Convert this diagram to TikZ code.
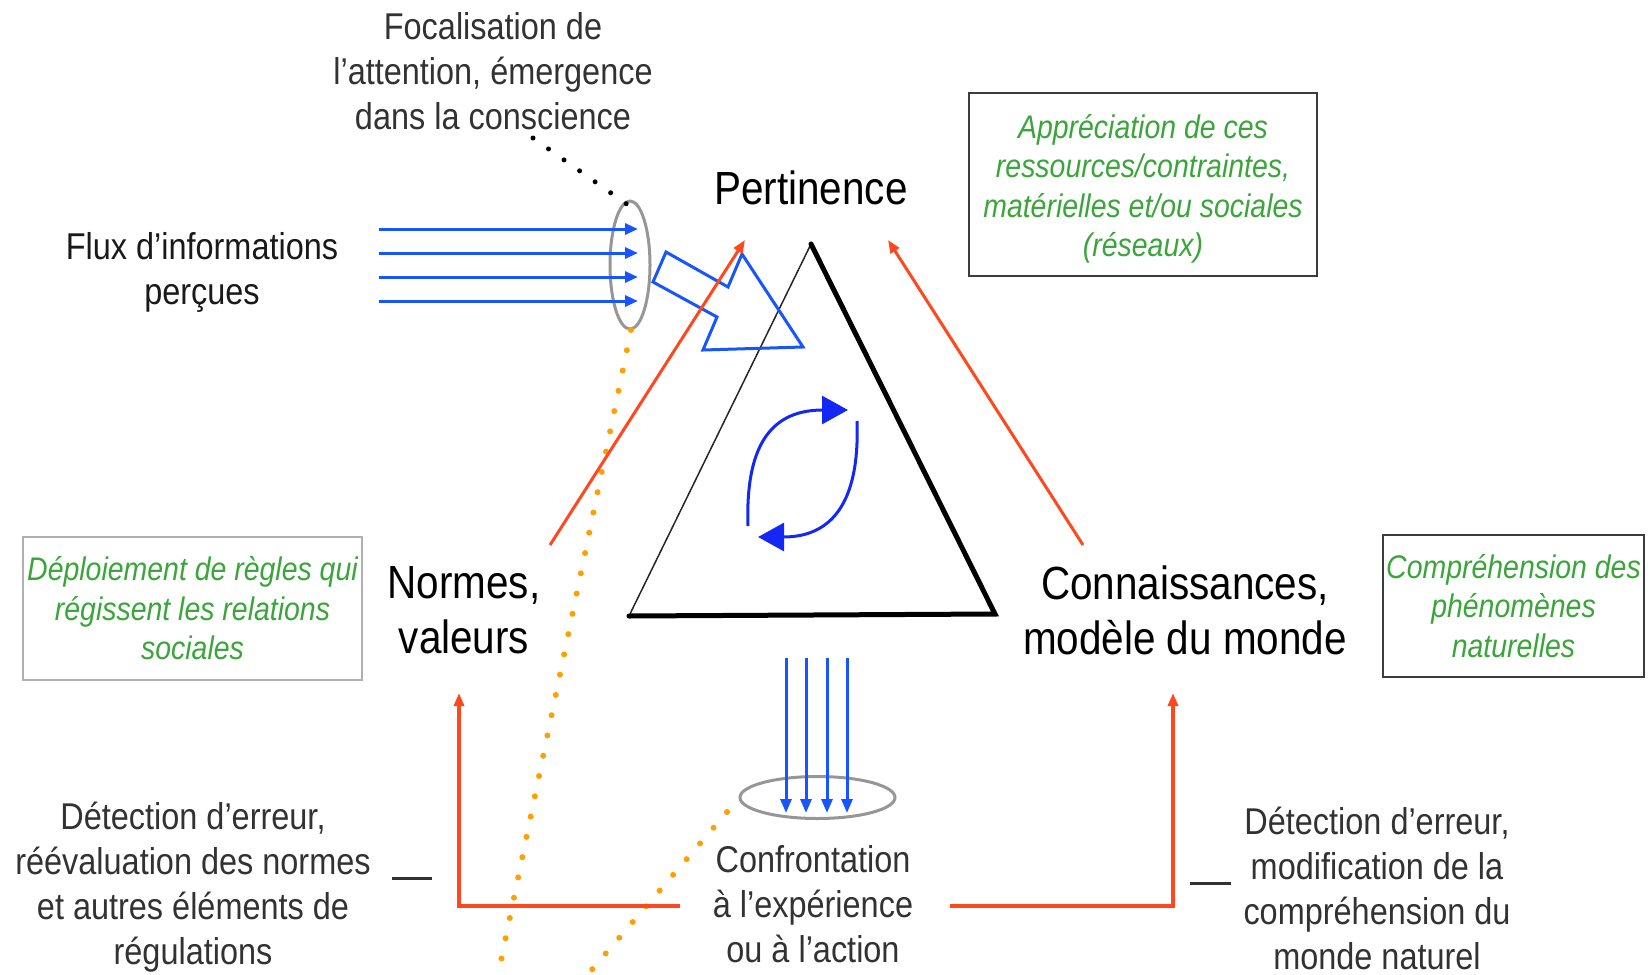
\documentclass[tikz,border=0pt]{standalone}
\usepackage{fontspec}
\setmainfont{Liberation Sans}[FakeStretch=0.87]
\usetikzlibrary{arrows.meta,shapes.geometric}
\definecolor{myblue}{RGB}{25,85,255}
\definecolor{cycblue}{RGB}{20,40,245}
\definecolor{myred}{RGB}{255,72,30}
\definecolor{mygreen}{RGB}{58,165,58}
\definecolor{myorange}{RGB}{255,160,0}
\definecolor{txtgray}{RGB}{50,50,50}
\definecolor{ellgray}{RGB}{150,150,150}
\definecolor{boxgray}{RGB}{60,60,60}
\definecolor{lboxgray}{RGB}{175,175,180}
\begin{document}
\begin{tikzpicture}[x=1bp,y=-1bp,
  lbl/.style={inner sep=0pt, align=center, text=txtgray, font=\fontsize{37.3bp}{45bp}\selectfont},
  big/.style={inner sep=0pt, align=center, text=black, font=\fontsize{46.5bp}{55bp}\selectfont},
  grnbox/.style={draw=boxgray, line width=2bp, inner sep=0pt, align=center, text=mygreen,
    font=\fontsize{32.7bp}{39.5bp}\selectfont\itshape},
  flow/.style={myblue, line width=3bp, -{Triangle[length=13bp,width=11bp]}},
  dflow/.style={myblue, line width=3bp, -{Triangle[length=14bp,width=11bp]}},
  redarr/.style={myred, line width=3bp, -{Triangle[length=13bp,width=10bp]}},
  redL/.style={myred, line width=3.5bp, -{Triangle[length=13bp,width=10bp]}},
  cyc/.style={cycblue, line width=3bp, -{Triangle[length=26bp,width=28bp]}},
  ell/.style={draw=ellgray, line width=3bp, ellipse, inner sep=0pt},
  odots/.style={myorange, line width=6bp, line cap=round, dash pattern=on 0bp off 20.7bp},
  kdots/.style={black, line width=5bp, line cap=round, dash pattern=on 0bp off 19bp},
  dashmark/.style={txtgray, line width=3bp}
]
\useasboundingbox (0,0) rectangle (1652,974);

% texts
\node[lbl] (focal) at (493,71) {Focalisation de\\l'attention, émergence\\dans la conscience};
\node[lbl, text=black!90] (flux) at (202,272) {Flux d'informations\\perçues};
\node[big] (pert) at (811,188) {Pertinence};
\node[big] (normes) at (464,610) {Normes,\\valeurs};
\node[big] (conn) at (1185,610) {Connaissances,\\modèle du monde};
\node[lbl] (conf) at (813,904) {Confrontation\\à l'expérience\\ou à l'action};
\node[lbl] (detl) at (193,887) {Détection d'erreur,\\réévaluation des normes\\et autres éléments de\\régulations};
\node[lbl] (detr) at (1377,888) {Détection d'erreur,\\modification de la\\compréhension du\\monde naturel};

% green boxes
\node[grnbox, minimum width=348bp, minimum height=183bp] (appr) at (1143,184.5) {};
\node[inner sep=0pt, align=center, text=mygreen, font=\fontsize{32.7bp}{39.5bp}\selectfont\itshape]
  (apprt) at (1143,189) {Appréciation de ces\\ressources/contraintes,\\matérielles et/ou sociales\\(réseaux)};
\node[grnbox, draw=lboxgray, minimum width=339bp, minimum height=143bp] (depl) at (192.5,608.5)
  {Déploiement de règles qui\\régissent les relations\\sociales};
\node[grnbox, minimum width=261bp, minimum height=142bp] (comp) at (1513.5,606)
  {Compréhension des\\phénomènes\\naturelles};

% triangle
\coordinate (ta) at (811,244);
\coordinate (tl) at (629,616);
\coordinate (tr) at (995,614);
\draw[black!85, line width=1.5bp] (tl) -- (ta);
\draw[black, line width=5bp, line join=miter, line cap=round] (ta) -- (tr) -- (tl);

% focal ellipse and incoming flow
\node[ell, minimum width=40bp, minimum height=128bp] (foc) at (630,265) {};
\foreach \yy [count=\i] in {229,253,277,301} {
  \coordinate (fs\i) at (379,\yy);
  \coordinate (fe\i) at (638,\yy);
  \draw[flow] (fs\i) -- (fe\i);
}

% black dotted
\coordinate (kd1) at (533,138);
\coordinate (kd2) at (628,205);
\draw[kdots] (kd1) -- (kd2);

% orange dotted
\coordinate (od1) at (631,330);
\coordinate (od2) at (497,980);
\draw[odots] (od1) -- (od2);
\coordinate (od3) at (727,812);
\coordinate (od4) at (583,980);
\draw[odots] (od3) -- (od4);

% big hollow arrow
\draw[myblue, line width=3bp, line join=miter]
  (666,252) -- (728,287) -- (742,254) -- (803,347) -- (703,350) -- (717,317) -- (653,282) -- cycle;

% red diagonal arrows
\coordinate (rl1) at (550,545);
\coordinate (rl2) at (745,240);
\coordinate (rr1) at (1083,545);
\coordinate (rr2) at (888,240);
\draw[redarr] (rl1) -- (rl2);
\draw[redarr] (rr1) -- (rr2);

% cycle arrows
\coordinate (c1s) at (748,526);
\coordinate (c1e) at (848,410);
\coordinate (c2s) at (857,421);
\coordinate (c2e) at (758,537);
\draw[cyc] (c1s) .. controls (745,440) and (775,410) .. (c1e);
\draw[cyc] (c2s) .. controls (860,505) and (830,537) .. (c2e);

% downward flow into bottom ellipse
\node[ell, minimum width=155bp, minimum height=42bp] (bell) at (817.5,797.5) {};
\foreach \xx [count=\i] in {786,806,827,847} {
  \coordinate (ds\i) at (\xx,658);
  \coordinate (de\i) at (\xx,813);
  \draw[dflow] (ds\i) -- (de\i);
}

% red L arrows
\coordinate (lh) at (680,906);
\coordinate (lt) at (459,693);
\draw[redL] (lh) -| (lt);
\coordinate (rh) at (950,906);
\coordinate (rt) at (1173,693);
\draw[redL] (rh) -| (rt);

% small dashes
\coordinate (dl1) at (392,878);
\coordinate (dl2) at (432,878);
\draw[dashmark] (dl1) -- (dl2);
\coordinate (dr1) at (1190,883);
\coordinate (dr2) at (1231,883);
\draw[dashmark] (dr1) -- (dr2);
\end{tikzpicture}
\end{document}
